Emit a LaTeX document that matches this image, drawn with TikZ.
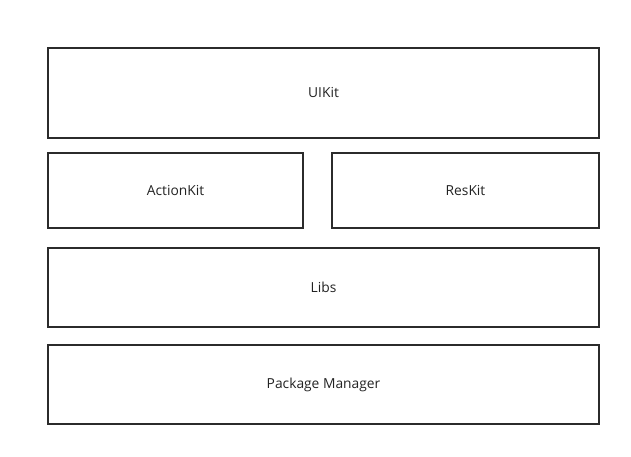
\documentclass[tikz,border=0pt]{standalone}
\usepackage{fontspec}
\setmainfont{Open Sans}
\usepackage{tikz}
\usetikzlibrary{positioning}
\usepackage{xcolor}
\definecolor{frame}{HTML}{2B2B2B}
\definecolor{label}{HTML}{222222}
\tikzset{
	every node/.style={align=center,outer sep=0pt},
	layer/.style={rectangle, draw=frame, line width=1.4pt, text=label,
		font=\fontsize{13.8}{16}\selectfont, inner sep=0pt},
	full/.style={layer, minimum width=551pt},
	half/.style={layer, minimum height=75pt}
}

\begin{document}
\begin{tikzpicture}[x=1pt,y=1pt]
	% page
	\useasboundingbox (0,0) rectangle (631,-457);
	
	\node (uikit) [full, minimum height=90pt] at (323.5,-93) {UIKit};
	\node (action) [half, minimum width=255pt, anchor=north west,
		below right = 15pt and 0pt of uikit.south west] {ActionKit};
	\node (res) [half, minimum width=267pt, anchor=north east,
		below left = 15pt and 0pt of uikit.south east] {ResKit};
	\node (libs) [full, minimum height=79pt, anchor=north west,
		below right = 20pt and 0pt of action.south west] {Libs};
	\node (pm) [full, minimum height=79pt, below = 18pt of libs] {Package Manager};
	
\end{tikzpicture}
\end{document}
